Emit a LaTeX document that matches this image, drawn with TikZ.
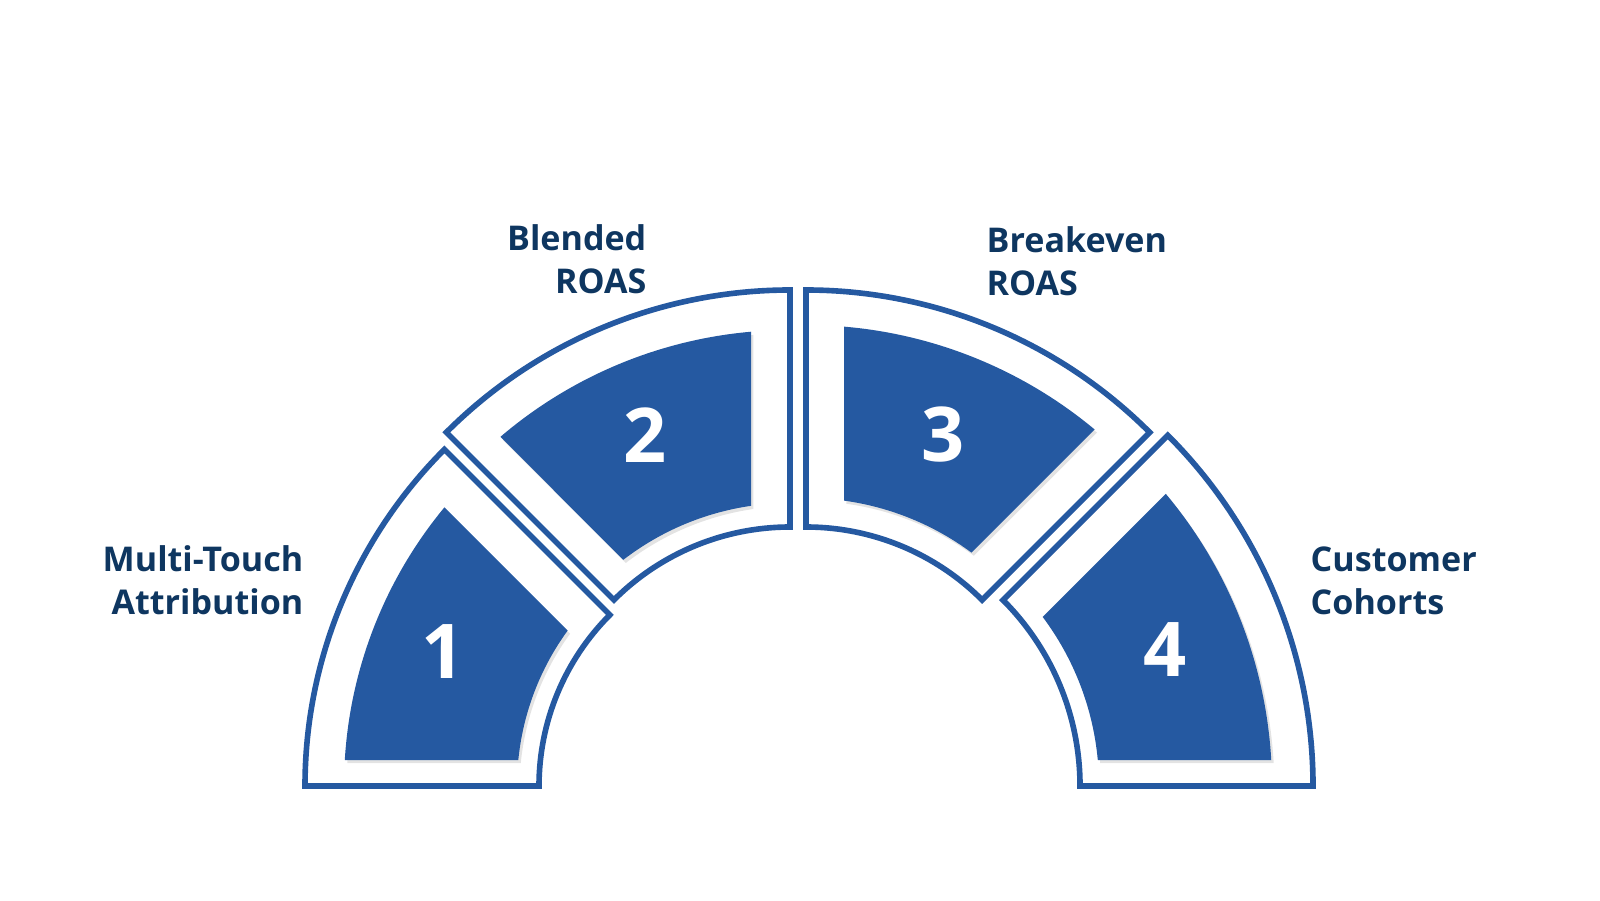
\documentclass[tikz,border=0pt]{standalone}
\usepackage{fontspec}
\setmainfont{Open Sans}
\usetikzlibrary{shadows}

\definecolor{ringblue}{HTML}{2559A1}
\definecolor{labelnavy}{HTML}{0E3660}

% one piece of the half ring: [style]{centre}{r in}{r out}{angle 1}{angle 2}{inset 1}{inset 2}
\newcommand{\ringpart}[8][]{%
  \draw[#1,shift={(#2)}] ({#5+asin(#7/#4)}:#4)
    arc[start angle={#5+asin(#7/#4)},end angle={#6-asin(#8/#4)},radius=#4]
    -- ({#6-asin(#8/#3)}:#3)
    arc[start angle={#6-asin(#8/#3)},end angle={#5+asin(#7/#3)},radius=#3]
    -- cycle;}

\begin{document}
\begin{tikzpicture}[
    outline/.style = {draw=ringblue, line width=1.6pt, line join=miter},
    inner/.style = {fill=ringblue, draw=none,
      drop shadow={shadow xshift=0.7pt, shadow yshift=-0.9pt, opacity=0.22}},
    num/.style = {text=white, inner sep=0pt, font=\bfseries\fontsize{21.5}{21.5}\selectfont},
    lbl/.style = {text=labelnavy, inner sep=0pt, font=\bfseries\fontsize{9.7}{12.1}\selectfont}
  ]
  \useasboundingbox (0,0) rectangle (16,9);

  \coordinate (c1) at (7.81,1.14);
  \coordinate (c2) at (7.90,1.24);
  \coordinate (c3) at (8.06,1.24);
  \coordinate (c4) at (8.17,1.14);

  % outer frames
  \ringpart[outline]{c1}{2.42}{4.76}{135}{180}{0}{0}
  \ringpart[outline]{c2}{2.49}{4.86}{90}{135}{0}{0}
  \ringpart[outline]{c3}{2.49}{4.86}{45}{90}{0}{0}
  \ringpart[outline]{c4}{2.63}{4.96}{0}{45}{0}{0}

  % filled pieces
  \ringpart[inner]{c1}{2.64}{4.37}{135}{180}{0.41}{0.26}
  \ringpart[inner]{c2}{2.73}{4.46}{90}{135}{0.39}{0.35}
  \ringpart[inner]{c3}{2.78}{4.51}{45}{90}{0.41}{0.38}
  \ringpart[inner]{c4}{2.82}{4.55}{0}{45}{0.26}{0.40}

  \node[num] (n1) at (4.43,2.48) {1};
  \node[num] (n2) at (6.45,4.65) {2};
  \node[num] (n3) at (9.43,4.65) {3};
  \node[num] (n4) at (11.65,2.50) {4};

  \node[lbl,anchor=north east,align=right] (mta) at (3.04,3.55) {Multi-Touch\\Attribution};
  \node[lbl,anchor=north east,align=right] (blended) at (6.47,6.76) {Blended\\ROAS};
  \node[lbl,anchor=north west,align=left] (breakeven) at (9.86,6.74) {Breakeven\\ROAS};
  \node[lbl,anchor=north west,align=left] (cohorts) at (13.10,3.535) {Customer\\Cohorts};
\end{tikzpicture}
\end{document}
